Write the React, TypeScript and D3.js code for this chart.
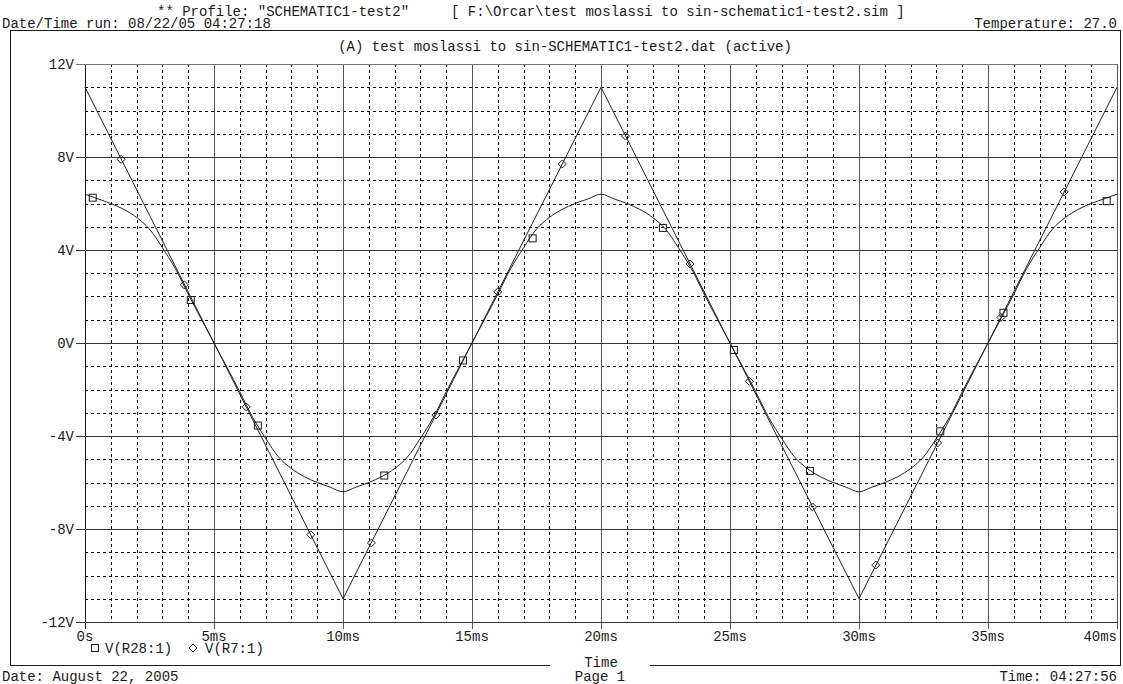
import React, { useRef, useEffect } from 'react';
import * as d3 from 'd3';

// axis ticks
const timeTicks = [0, 5, 10, 15, 20, 25, 30, 35, 40];
const timeLabels = ['0s', '5ms', '10ms', '15ms', '20ms', '25ms', '30ms', '35ms', '40ms'];
const voltTicks = [12, 8, 4, 0, -4, -8, -12];
const voltLabels = ['12V', '8V', '4V', '0V', '-4V', '-8V', '-12V'];

// V(R7:1) - triangle wave
const r7Time = [0, 10, 20, 30, 40];
const r7Volts = [11, -11, 11, -11, 11];

// V(R28:1) - soft clipped wave
const r28Time = [
    0, 0.5, 1, 1.5, 2, 2.5, 3, 3.5, 4, 5, 6, 6.5, 7, 7.5, 8, 8.5, 9, 9.5,
    10, 10.5, 11, 11.5, 12, 12.5, 13, 13.5, 14, 15, 16, 16.5, 17, 17.5, 18, 18.5, 19, 19.5,
    20, 20.5, 21, 21.5, 22, 22.5, 23, 23.5, 24, 25, 26, 26.5, 27, 27.5, 28, 28.5, 29, 29.5,
    30, 30.5, 31, 31.5, 32, 32.5, 33, 33.5, 34, 35, 36, 36.5, 37, 37.5, 38, 38.5, 39, 39.5, 40
];
const r28Volts = [
    6.4, 6.2, 6.0, 5.75, 5.4, 4.9, 4.1, 3.2, 2.1, 0, -2.1, -3.2, -4.1, -4.9, -5.4, -5.75, -6.0, -6.2,
    -6.4, -6.2, -6.0, -5.75, -5.4, -4.9, -4.1, -3.2, -2.1, 0, 2.1, 3.2, 4.1, 4.9, 5.4, 5.75, 6.0, 6.2,
    6.4, 6.2, 6.0, 5.75, 5.4, 4.9, 4.1, 3.2, 2.1, 0, -2.1, -3.2, -4.1, -4.9, -5.4, -5.75, -6.0, -6.2,
    -6.4, -6.2, -6.0, -5.75, -5.4, -4.9, -4.1, -3.2, -2.1, 0, 2.1, 3.2, 4.1, 4.9, 5.4, 5.75, 6.0, 6.2,
    6.4
];

// trace markers
const r7MarkTime = [1.4, 3.85, 6.25, 8.75, 11.1, 13.6, 16.0, 18.5, 20.95, 23.45, 25.75, 28.2, 30.65, 33.05, 35.5, 37.95];
const r7MarkVolts = [7.9, 2.5, -2.75, -8.25, -8.6, -3.1, 2.2, 7.7, 8.9, 3.4, -1.65, -7.05, -9.55, -4.3, 1.1, 6.5];
const r28MarkTime = [0.3, 4.1, 6.7, 11.6, 14.65, 17.35, 22.4, 25.15, 28.1, 33.15, 35.6, 39.6];
const r28MarkVolts = [6.25, 1.85, -3.55, -5.7, -0.75, 4.5, 4.95, -0.3, -5.5, -3.8, 1.3, 6.1];

const W = 1123;
const H = 684;
const plotLeft = 85;
const plotRight = 1117;
const plotTop = 64;
const plotBottom = 622;
const frameLeft = 10;
const frameRight = 1120;
const frameTop = 30;
const frameBottom = 665;
const font = '"Liberation Mono", "Courier New", monospace';
const ink = '#1a1a1a';

const App = () => {
    const ref = useRef<SVGSVGElement>(null);

    useEffect(() => {
        const svg = d3.select(ref.current);
        svg.selectAll('*').remove();

        const x = d3.scaleLinear([0, 40], [plotLeft, plotRight]);
        const y = d3.scaleLinear([-12, 12], [plotBottom, plotTop]);

        const text = (tx: number, ty: number, s: string, anchor = 'start') =>
            svg.append('text')
                .attr('x', tx)
                .attr('y', ty)
                .attr('text-anchor', anchor)
                .attr('font-family', font)
                .attr('font-size', 14)
                .attr('fill', ink)
                .style('white-space', 'pre')
                .text(s);

        // header
        text(157, 16, '** Profile: "SCHEMATIC1-test2"     [ F:\\Orcar\\test moslassi to sin-schematic1-test2.sim ]');
        text(2, 28, 'Date/Time run: 08/22/05 04:27:18');
        text(1117, 28, 'Temperature: 27.0', 'end');

        // frame
        const frame = svg.append('g').attr('stroke', ink).attr('fill', 'none').attr('shape-rendering', 'crispEdges');
        frame.append('path')
            .attr('d', `M${frameLeft + 0.5},${frameBottom}V${frameTop + 0.5}H${frameRight + 0.5}V${frameBottom}`);
        frame.append('line')
            .attr('x1', frameLeft).attr('x2', 550)
            .attr('y1', frameBottom + 0.5).attr('y2', frameBottom + 0.5);
        frame.append('line')
            .attr('x1', 650).attr('x2', frameRight + 1)
            .attr('y1', frameBottom + 0.5).attr('y2', frameBottom + 0.5);

        text((frameLeft + frameRight) / 2, 51, '(A) test moslassi to sin-SCHEMATIC1-test2.dat (active)', 'middle');

        // minor grid
        const minor = svg.append('g')
            .attr('stroke', '#000')
            .attr('stroke-width', 1)
            .attr('stroke-dasharray', '3,3')
            .attr('shape-rendering', 'crispEdges');
        minor.selectAll('line.vx')
            .data(d3.range(1, 40).filter(t => t % 5 !== 0))
            .join('line')
            .attr('class', 'vx')
            .attr('x1', d => Math.round(x(d)) + 0.5).attr('x2', d => Math.round(x(d)) + 0.5)
            .attr('y1', plotTop).attr('y2', plotBottom);
        minor.selectAll('line.hy')
            .data(d3.range(-11, 12).filter(v => v % 4 !== 0))
            .join('line')
            .attr('class', 'hy')
            .attr('x1', plotLeft).attr('x2', plotRight)
            .attr('y1', d => Math.round(y(d)) + 0.5).attr('y2', d => Math.round(y(d)) + 0.5);

        // major grid
        const major = svg.append('g').attr('shape-rendering', 'crispEdges');
        major.selectAll('line.mx')
            .data(timeTicks)
            .join('line')
            .attr('class', 'mx')
            .attr('x1', d => Math.round(x(d)) + 0.5).attr('x2', d => Math.round(x(d)) + 0.5)
            .attr('y1', plotTop).attr('y2', plotBottom + 7)
            .attr('stroke', (d, i) => (i === 0 ? '#111' : '#555'));
        major.selectAll('line.my')
            .data(voltTicks)
            .join('line')
            .attr('class', 'my')
            .attr('x1', plotLeft - 9).attr('x2', plotRight)
            .attr('y1', d => Math.round(y(d)) + 0.5).attr('y2', d => Math.round(y(d)) + 0.5)
            .attr('stroke', (d, i) => (i === 0 ? '#777' : '#333'));

        // tick labels
        voltTicks.forEach((v, i) => text(plotLeft - 11, y(v) + 5, voltLabels[i], 'end'));
        timeTicks.forEach((t, i) =>
            text(i === timeTicks.length - 1 ? plotRight : x(t), 641, timeLabels[i],
                i === timeTicks.length - 1 ? 'end' : 'middle'));

        // traces
        const line = d3.line<[number, number]>()
            .x(d => x(d[0]))
            .y(d => y(d[1]));
        const smooth = d3.line<[number, number]>()
            .x(d => x(d[0]))
            .y(d => y(d[1]))
            .curve(d3.curveMonotoneX);

        svg.append('path')
            .attr('fill', 'none')
            .attr('stroke', '#222')
            .attr('stroke-width', 1)
            .attr('d', smooth(r28Time.map((t, i) => [t, r28Volts[i]])));

        svg.append('path')
            .attr('fill', 'none')
            .attr('stroke', '#222')
            .attr('stroke-width', 1)
            .attr('d', line(r7Time.map((t, i) => [t, r7Volts[i]])));

        // markers
        const square = (cx: number, cy: number) =>
            svg.append('rect')
                .attr('x', cx - 3.5).attr('y', cy - 3.5)
                .attr('width', 7).attr('height', 7)
                .attr('fill', 'none').attr('stroke', ink);
        const diamond = (cx: number, cy: number) =>
            svg.append('path')
                .attr('d', `M${cx},${cy - 4}L${cx + 4},${cy}L${cx},${cy + 4}L${cx - 4},${cy}Z`)
                .attr('fill', 'none').attr('stroke', ink);

        r28MarkTime.forEach((t, i) => square(x(t), y(r28MarkVolts[i])));
        r7MarkTime.forEach((t, i) => diamond(x(t), y(r7MarkVolts[i])));

        // legend
        square(95, 648);
        text(105, 653, 'V(R28:1)');
        diamond(193, 648);
        text(205, 653, 'V(R7:1)');

        // footer
        text((plotLeft + plotRight) / 2, 667, 'Time', 'middle');
        text(2, 681, 'Date: August 22, 2005');
        text(600, 681, 'Page 1', 'middle');
        text(1117, 681, 'Time: 04:27:56', 'end');
    }, []);

    return (
        <svg
            ref={ref}
            width={W}
            height={H}
            style={{ position: 'absolute', left: 0, top: 0, background: '#fff' }}
        />
    );
};

export default App;
